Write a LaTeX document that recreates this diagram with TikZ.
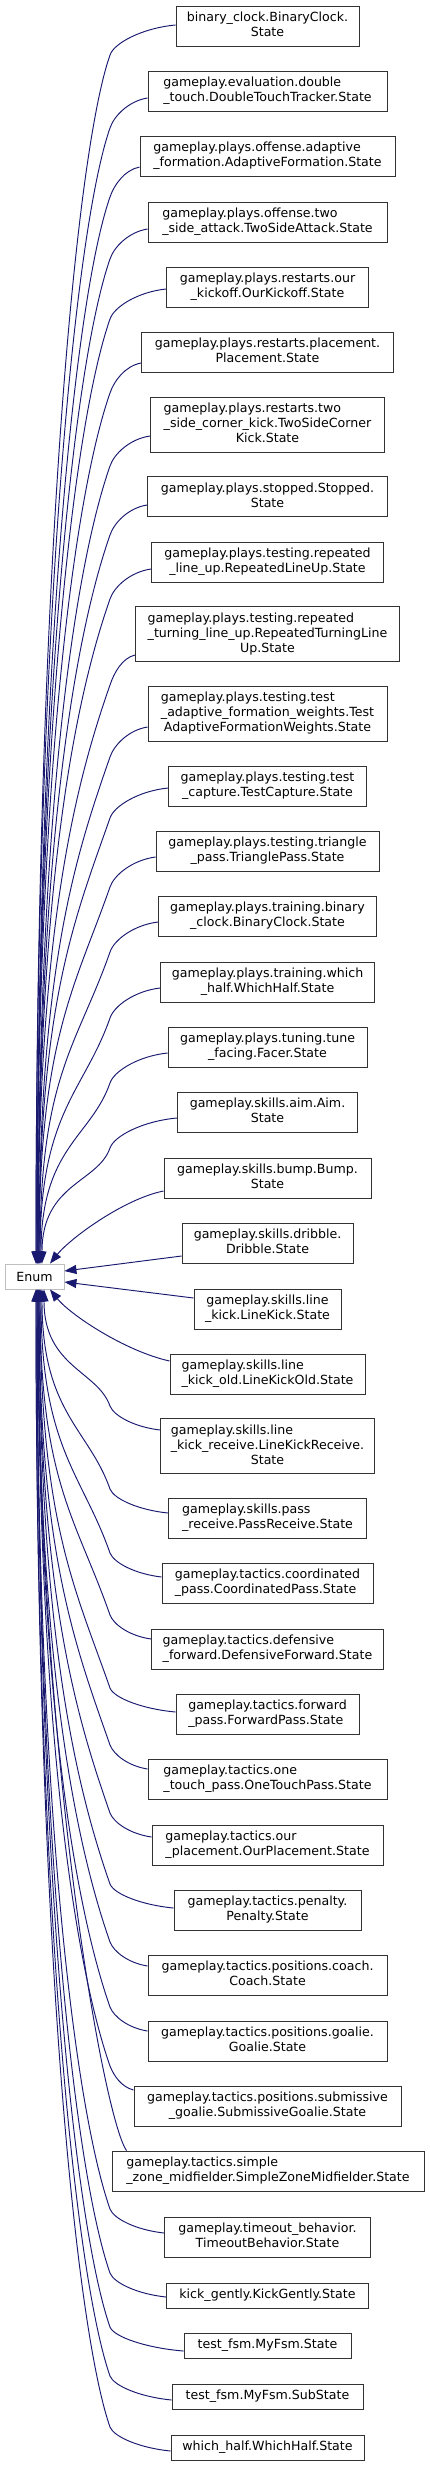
\documentclass[tikz,border=0pt]{standalone}
\usepackage{fontspec}
\setmainfont{DejaVu Sans}
\usetikzlibrary{arrows.meta}
\definecolor{mblue}{HTML}{191970}
\definecolor{enumgray}{HTML}{BFBFBF}
\newcommand\boxL[1]{\begin{tabular}{@{}l@{}}#1\end{tabular}}
\newcommand\boxC[1]{\begin{tabular}{@{}c@{}}#1\end{tabular}}
\newcommand\lastC[1]{\multicolumn{1}{@{}c@{}}{#1}}
% upper edge: #1 node, #2 left x, #3 exit y, #4 end x on Enum top
\newcommand\edgeU[4]{\draw[inh] (#1.west |- 0,#3) .. controls +({-0.5*(#2-110)},3) and +(4,-12) .. (110,{#3+30}) .. controls +({-0.35*min(100,0.3*(1234-#3))},{min(100,0.3*(1234-#3))}) and +(0,{-0.55*(1264-#3)}) .. (Enum.north -| #4,0);}
% lower edge
\newcommand\edgeD[4]{\draw[inh] (#1.west |- 0,#3) .. controls +({-0.5*(#2-110)},-3) and +(4,10) .. (110,{#3-24}) .. controls +({-0.35*min(100,0.3*(#3-1313))},{-min(100,0.3*(#3-1313))}) and +(0,{0.55*(#3-1289)}) .. (Enum.south -| #4,0);}
\tikzset{
  cls/.style={draw=black!80, fill=white, line width=0.9pt, inner sep=0pt, text=black, font=\fontsize{12.6}{15}\selectfont},
  h2/.style={minimum height=40pt},
  h3/.style={minimum height=55pt},
  h1/.style={minimum height=25pt},
  inh/.style={draw=mblue, line width=0.95pt, -{Triangle[length=12pt,width=9pt]}},
}
\begin{document}
\begin{tikzpicture}[x=1pt,y=-1pt]
\useasboundingbox (0,0) rectangle (429,2466);
\node[cls, draw=enumgray, minimum width=59pt, h1] (Enum) at (34.5,1276.5) {Enum};

\node[cls,h2,minimum width=183pt] (bc) at (267.5,26) {\boxC{binary\_clock.BinaryClock.\\State}};
\node[cls,h2,minimum width=239pt] (dt) at (267.5,91) {\boxL{gameplay.evaluation.double\\\_touch.DoubleTouchTracker.State}};
\node[cls,h2,minimum width=255pt] (af) at (267.5,156) {\boxL{gameplay.plays.offense.adaptive\\\_formation.AdaptiveFormation.State}};
\node[cls,h2,minimum width=239pt] (tsa) at (267.5,222) {\boxL{gameplay.plays.offense.two\\\_side\_attack.TwoSideAttack.State}};
\node[cls,h2,minimum width=202pt] (ok) at (267.5,287) {\boxC{gameplay.plays.restarts.our\\\_kickoff.OurKickoff.State}};
\node[cls,h2,minimum width=252pt] (pl) at (267.5,352) {\boxC{gameplay.plays.restarts.placement.\\Placement.State}};
\node[cls,h3,minimum width=234pt] (tsc) at (267.5,424.5) {\boxL{gameplay.plays.restarts.two\\\_side\_corner\_kick.TwoSideCorner\\\lastC{Kick.State}}};
\node[cls,h2,minimum width=240pt] (st) at (267.5,496.5) {\boxC{gameplay.plays.stopped.Stopped.\\State}};
\node[cls,h2,minimum width=232pt] (rlu) at (267.5,562) {\boxC{gameplay.plays.testing.repeated\\\_line\_up.RepeatedLineUp.State}};
\node[cls,h3,minimum width=264pt] (rtl) at (267.5,634) {\boxL{gameplay.plays.testing.repeated\\\_turning\_line\_up.RepeatedTurningLine\\\lastC{Up.State}}};
\node[cls,h3,minimum width=239pt] (taf) at (267.5,713.5) {\boxL{gameplay.plays.testing.test\\\_adaptive\_formation\_weights.Test\\\lastC{AdaptiveFormationWeights.State}}};
\node[cls,h2,minimum width=198pt] (tc) at (267.5,786) {\boxC{gameplay.plays.testing.test\\\_capture.TestCapture.State}};
\node[cls,h2,minimum width=223pt] (tp) at (267.5,851) {\boxC{gameplay.plays.testing.triangle\\\_pass.TrianglePass.State}};
\node[cls,h2,minimum width=218pt] (tbc) at (267.5,916) {\boxC{gameplay.plays.training.binary\\\_clock.BinaryClock.State}};
\node[cls,h2,minimum width=214pt] (twh) at (267.5,982) {\boxC{gameplay.plays.training.which\\\_half.WhichHalf.State}};
\node[cls,h2,minimum width=199pt] (tf) at (267.5,1047) {\boxC{gameplay.plays.tuning.tune\\\_facing.Facer.State}};
\node[cls,h2,minimum width=180pt] (aim) at (267.5,1112) {\boxC{gameplay.skills.aim.Aim.\\State}};
\node[cls,h2,minimum width=207pt] (bump) at (267.5,1178) {\boxC{gameplay.skills.bump.Bump.\\State}};
\node[cls,h2,minimum width=171pt] (drib) at (267.5,1243) {\boxC{gameplay.skills.dribble.\\Dribble.State}};
\node[cls,h2,minimum width=147pt] (lk) at (267.5,1309) {\boxC{gameplay.skills.line\\\_kick.LineKick.State}};
\node[cls,h2,minimum width=195pt] (lko) at (267.5,1374) {\boxL{gameplay.skills.line\\\_kick\_old.LineKickOld.State}};
\node[cls,h3,minimum width=214pt] (lkr) at (267.5,1446) {\boxL{gameplay.skills.line\\\_kick\_receive.LineKickReceive.\\\lastC{State}}};
\node[cls,h2,minimum width=198pt] (pr) at (267.5,1518) {\boxL{gameplay.skills.pass\\\_receive.PassReceive.State}};
\node[cls,h2,minimum width=211pt] (cp) at (267.5,1583) {\boxL{gameplay.tactics.coordinated\\\_pass.CoordinatedPass.State}};
\node[cls,h2,minimum width=232pt] (df) at (267.5,1649) {\boxL{gameplay.tactics.defensive\\\_forward.DefensiveForward.State}};
\node[cls,h2,minimum width=183pt] (fp) at (267.5,1714) {\boxL{gameplay.tactics.forward\\\_pass.ForwardPass.State}};
\node[cls,h2,minimum width=239pt] (otp) at (267.5,1779) {\boxL{gameplay.tactics.one\\\_touch\_pass.OneTouchPass.State}};
\node[cls,h2,minimum width=231pt] (op) at (267.5,1845) {\boxL{gameplay.tactics.our\\\_placement.OurPlacement.State}};
\node[cls,h2,minimum width=187pt] (pen) at (267.5,1910) {\boxC{gameplay.tactics.penalty.\\Penalty.State}};
\node[cls,h2,minimum width=239pt] (coach) at (267.5,1975) {\boxC{gameplay.tactics.positions.coach.\\Coach.State}};
\node[cls,h2,minimum width=239pt] (goalie) at (267.5,2041) {\boxC{gameplay.tactics.positions.goalie.\\Goalie.State}};
\node[cls,h2,minimum width=267pt] (sg) at (267.5,2106) {\boxC{gameplay.tactics.positions.submissive\\\_goalie.SubmissiveGoalie.State}};
\node[cls,h2,minimum width=312pt] (szm) at (268,2171) {\boxL{gameplay.tactics.simple\\\_zone\_midfielder.SimpleZoneMidfielder.State}};
\node[cls,h2,minimum width=206pt] (tb) at (267.5,2237) {\boxC{gameplay.timeout\_behavior.\\TimeoutBehavior.State}};
\node[cls,h1,minimum width=202pt] (kg) at (267.5,2295.5) {kick\_gently.KickGently.State};
\node[cls,h1,minimum width=167pt] (mf) at (267.5,2345.5) {test\_fsm.MyFsm.State};
\node[cls,h1,minimum width=191pt] (ss) at (267.5,2396.5) {test\_fsm.MyFsm.SubState};
\node[cls,h1,minimum width=193pt] (wh) at (267.5,2447.5) {which\_half.WhichHalf.State};

\edgeU{bc}{176}{25}{36}
\edgeU{dt}{148}{98}{36}
\edgeU{af}{140}{167}{37}
\edgeU{tsa}{148}{229}{37}
\edgeU{ok}{167}{289}{37}
\edgeU{pl}{142}{363}{37}
\edgeU{tsc}{151}{436}{38}
\edgeU{st}{148}{505}{38}
\edgeU{rlu}{152}{569}{38}
\edgeU{rtl}{136}{655}{38}
\edgeU{taf}{148}{727}{39}
\edgeU{tc}{169}{788}{39}
\edgeU{tp}{156}{857}{39}
\edgeU{tbc}{159}{922}{40}
\edgeU{twh}{161}{988}{40}
\edgeU{tf}{168}{1053}{41}
\edgeU{aim}{178}{1118}{42}
\draw[inh] (bump.west |- 0,1191) .. controls +(-40,8) and +(20,-25) .. (Enum.north -| 50,0);
\draw[inh] (drib.west |- 0,1256) -- ([yshift=5.5pt]Enum.east);
\draw[inh] (lk.west |- 0,1298) -- ([yshift=-5.5pt]Enum.east);
\draw[inh] (lko.west |- 0,1361) .. controls +(-45,-10) and +(20,25) .. (Enum.south -| 50,0);
\edgeD{lkr}{161}{1430}{44}
\edgeD{pr}{169}{1513}{42}
\edgeD{cp}{162}{1577}{41}
\edgeD{df}{152}{1639}{40}
\edgeD{fp}{176}{1712}{40}
\edgeD{otp}{148}{1769}{39}
\edgeD{op}{152}{1837}{39}
\edgeD{pen}{174}{1908}{39}
\edgeD{coach}{148}{1966}{38}
\edgeD{goalie}{148}{2031}{38}
\edgeD{sg}{134}{2090}{38}
\draw[inh] ([xshift=15pt]szm.north west) .. controls +(-22,-30) and +(0,474) .. (Enum.south -| 38,0);
\edgeD{tb}{165}{2233}{37}
\edgeD{kg}{167}{2297}{37}
\edgeD{mf}{184}{2351}{37}
\edgeD{ss}{172}{2400}{36}
\edgeD{wh}{171}{2451}{36}
\end{tikzpicture}
\end{document}
